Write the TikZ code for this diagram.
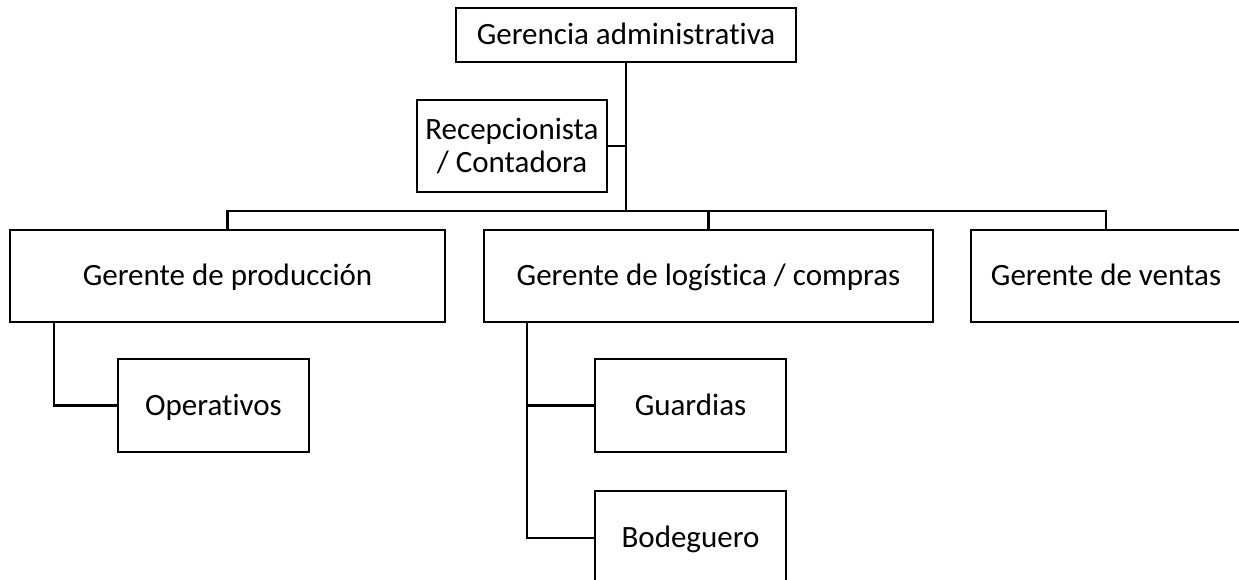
\documentclass[tikz,border=0pt]{standalone}
\usepackage{fontspec}
\setmainfont{Carlito}[Ligatures={NoCommon}]
\usetikzlibrary{positioning,calc}
\tikzset{
	org chart/.style={
		x=1pt, y=-1pt,
		puesto/.style={draw, line width=2.2pt, align=center, inner sep=0pt,
			font=\fontsize{31}{33}\selectfont,
			minimum width=##1, minimum height=92pt},
		una linea/.style={text height=25pt, text depth=6pt},
		link/.style={draw, line width=2.2pt},
		},
	drop/.store in=\drop,
	drop=44pt
}

\begin{document}
\begin{tikzpicture}[org chart]
	\clip (0,0) rectangle (1239,579);
	\node[puesto=340pt, una linea, minimum height=54pt] (ger) at (626,35) {Gerencia administrativa};
	\node[puesto=190pt] (recep) at (512,146) {Recepcionista\\/ Contadora};
	\coordinate (bus) at (626,211);
	% nivel de gerentes
	\node[puesto=435pt, una linea] (prod) at (227.5,276) {Gerente de producci\'on};
	\node[puesto=449pt, una linea] (log) at (708.5,276) {Gerente de log\'istica / compras};
	\node[puesto=270pt, una linea] (ventas) at (1106,276) {Gerente de ventas};
	% personal
	\node[puesto=191pt, una linea, minimum height=93pt] (oper) at (213.5,405.5) {Operativos};
	\node[puesto=191pt, una linea, minimum height=93pt] (guard) at (690.5,405.5) {Guardias};
	\node[puesto=191pt, una linea, minimum height=93pt, below=37pt of guard] (bode) {Bodeguero};

	\draw[link] (ger) -- (bus);
	\draw[link] (recep.east) -- (recep.east -| bus);
	\draw[link] (prod.north) |- (bus) -| (ventas.north);
	\draw[link] (log.north) -- (log.north |- bus);
	\draw[link] ([xshift=45pt]prod.south west) |- (oper.west);
	\draw[link] ([xshift=\drop]log.south west) |- (guard.west);
	\draw[link] ([xshift=\drop]log.south west) |- (bode.west);
\end{tikzpicture}
\end{document}
